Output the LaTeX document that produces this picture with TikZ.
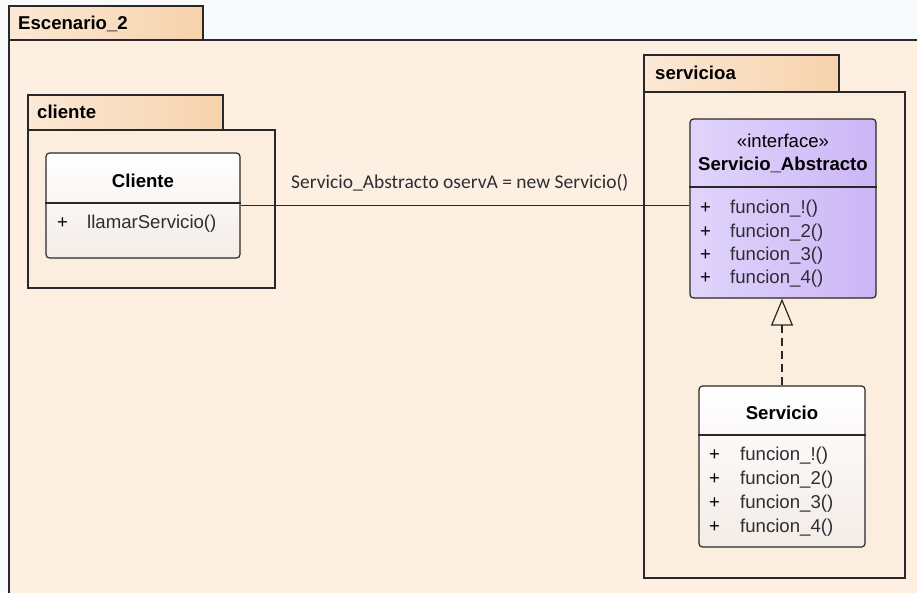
\documentclass[tikz,border=0pt]{standalone}
\usepackage{fontspec}
\setmainfont{Liberation Sans}
\newfontfamily\notefont{Carlito}
\usetikzlibrary{arrows.meta}

\definecolor{pagebg}{RGB}{248,250,252}
\definecolor{bodybg}{RGB}{253,240,226}
\definecolor{innerbg}{RGB}{252,238,223}
\definecolor{tableft}{RGB}{251,232,213}
\definecolor{tabright}{RGB}{247,210,172}
\definecolor{linecol}{RGB}{40,40,40}
\definecolor{classbot}{RGB}{243,236,231}
\definecolor{ifleft}{RGB}{224,212,251}
\definecolor{ifright}{RGB}{204,182,246}
\definecolor{itemcol}{RGB}{45,45,50}

\begin{document}
\begin{tikzpicture}[x=1pt,y=-1pt,
  outline/.style={draw=linecol, line width=1.2pt},
  pkgtab/.style={outline, left color=tableft, right color=tabright},
  pkgbody/.style={outline, fill=innerbg},
  pkgname/.style={anchor=base west, inner sep=0pt, font=\fontsize{18.6}{22}\selectfont\bfseries},
  classbox/.style={outline, rounded corners=3.5pt, top color=white, bottom color=classbot, inner sep=0pt},
  ifacebox/.style={outline, rounded corners=3.5pt, left color=ifleft, right color=ifright, inner sep=0pt},
  classname/.style={anchor=base, inner sep=0pt, font=\fontsize{18.6}{22}\selectfont\bfseries},
  stereo/.style={anchor=base, inner sep=0pt, font=\fontsize{18.6}{22}\selectfont},
  vis/.style={anchor=base west, inner sep=0pt, font=\fontsize{18.6}{22}\selectfont},
  member/.style={anchor=base west, inner sep=0pt, text=itemcol, font=\fontsize{18.6}{22}\selectfont},
  assoc/.style={draw=linecol, line width=1.2pt},
  realize/.style={draw=linecol, line width=1.2pt, dash pattern=on 8pt off 5pt,
    -{Triangle[open, length=27pt, width=22pt, line width=1.2pt]}}
]
\useasboundingbox (0,0) rectangle (917,592);
\fill[pagebg] (0,0) rectangle (917,592);

% outer package Escenario_2
\path[pkgtab] (9,6) rectangle (203,40);
\path[outline, fill=bodybg] (9,40) rectangle (935,610);
\node[pkgname] (escname) at (18,29) {Escenario\_2};

% package cliente
\path[pkgtab] (28,95) rectangle (223,130);
\path[pkgbody] (28,130) rectangle (275,288);
\node[pkgname] (cliname) at (37,118) {cliente};

% package servicioa
\path[pkgtab] (644,55) rectangle (839,92);
\path[pkgbody] (644,92) rectangle (905,578);
\node[pkgname] (srvname) at (655,79) {servicioa};

% class Cliente
\node[classbox, minimum width=194pt, minimum height=105pt] (cli) at (143,205.5) {};
\draw[outline] (cli.west |- 0,203) -- (cli.east |- 0,203);
\node[classname] (clititle) at (143,187) {Cliente};
\node[vis] (clivis) at (57,228) {+};
\node[member] (climeth) at (87,228) {llamarServicio()};

% interface Servicio_Abstracto
\node[ifacebox, minimum width=186pt, minimum height=179pt] (abs) at (783,208.5) {};
\draw[outline] (abs.west |- 0,187) -- (abs.east |- 0,187);
\node[stereo] (absstereo) at (783,147) {«interface»};
\node[classname] (abstitle) at (783,170) {Servicio\_Abstracto};
\node[vis] (absv1) at (700,213) {+};
\node[member] (absm1) at (730,213) {funcion\_!()};
\node[vis] (absv2) at (700,237) {+};
\node[member] (absm2) at (730,237) {funcion\_2()};
\node[vis] (absv3) at (700,260) {+};
\node[member] (absm3) at (730,260) {funcion\_3()};
\node[vis] (absv4) at (700,283) {+};
\node[member] (absm4) at (730,283) {funcion\_4()};

% class Servicio
\node[classbox, minimum width=166pt, minimum height=161pt] (srv) at (782,466.5) {};
\draw[outline] (srv.west |- 0,435) -- (srv.east |- 0,435);
\node[classname] (srvtitle) at (782,419) {Servicio};
\node[vis] (srvv1) at (709,460) {+};
\node[member] (srvm1) at (740,460) {funcion\_!()};
\node[vis] (srvv2) at (709,484) {+};
\node[member] (srvm2) at (740,484) {funcion\_2()};
\node[vis] (srvv3) at (709,508) {+};
\node[member] (srvm3) at (740,508) {funcion\_3()};
\node[vis] (srvv4) at (709,532) {+};
\node[member] (srvm4) at (740,532) {funcion\_4()};

% association Cliente -- Servicio_Abstracto
\draw[assoc] (cli.east) -- (cli.east -| abs.west);
\node[anchor=base west, inner sep=0pt, text=itemcol, font=\notefont\fontsize{19.5}{23}\selectfont] (assoclabel) at (291,188) {Servicio\_Abstracto oservA = new Servicio()};

% realization Servicio -> Servicio_Abstracto
\draw[realize] (srv.north) -- (srv.north |- abs.south);
\end{tikzpicture}
\end{document}
